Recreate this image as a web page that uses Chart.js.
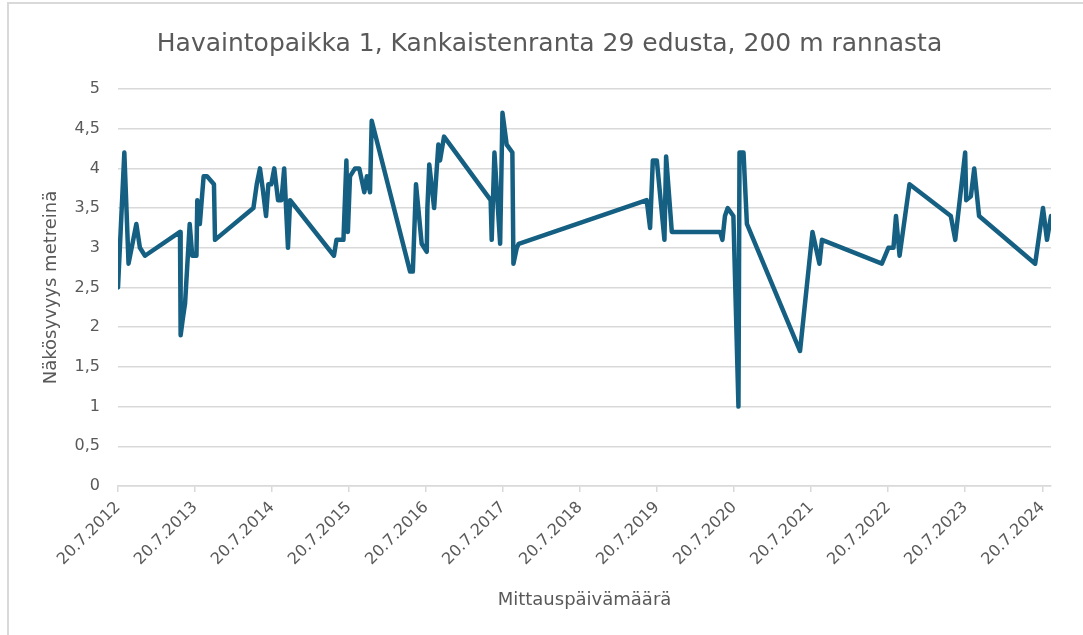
<!DOCTYPE html>
<html>
<head>
<meta charset="utf-8">
<script src="https://cdn.jsdelivr.net/npm/chart.js@4/dist/chart.umd.min.js"></script>
<style>
  html, body { margin: 0; padding: 0; background: #ffffff; }
  #wrap { position: relative; width: 1083px; height: 635px; overflow: hidden; }
  #frame { position: absolute; left: 7px; top: 2px; width: 1200px; height: 700px;
           border-left: 2px solid #d9d9d9; border-top: 2px solid #d9d9d9; pointer-events: none; }
  canvas { position: absolute; left: 0; top: 0; }
</style>
</head>
<body>
<div id="wrap">
  <canvas id="c" width="1083" height="635"></canvas>
  <div id="frame"></div>
</div>
<script>
// ---- Data ----
const titleText = "Havaintopaikka 1, Kankaistenranta 29 edusta, 200 m rannasta";
const yAxisTitle = "Näkösyvyys metreinä";
const xAxisTitle = "Mittauspäivämäärä";

const measureDates = [
  "2012-07-20","2012-08-19","2012-09-08","2012-10-15","2012-11-01","2012-11-25",
  "2013-05-10","2013-05-13","2013-05-23","2013-06-03","2013-06-25","2013-07-07",
  "2013-07-27","2013-07-31","2013-08-12","2013-08-30","2013-09-15","2013-10-18","2013-10-23",
  "2014-04-23","2014-05-09","2014-05-24","2014-06-06","2014-06-22","2014-07-03",
  "2014-07-17","2014-07-31","2014-08-18","2014-09-03","2014-09-16","2014-10-04","2014-10-14",
  "2015-05-10","2015-05-22","2015-06-24","2015-07-08","2015-07-15","2015-07-25",
  "2015-08-18","2015-09-07","2015-10-01","2015-10-13","2015-10-28","2015-11-05",
  "2016-05-05","2016-05-18","2016-06-02","2016-06-29","2016-07-23","2016-07-26",
  "2016-08-04","2016-08-27","2016-09-16","2016-09-24","2016-10-13",
  "2017-05-22","2017-05-27","2017-06-09","2017-07-06","2017-07-17","2017-08-06",
  "2017-09-02","2017-09-07","2017-09-23","2017-10-02",
  "2019-06-01","2019-06-17","2019-06-30","2019-07-19","2019-08-24","2019-09-01","2019-09-28",
  "2020-05-14","2020-05-25","2020-06-06","2020-06-19","2020-07-16","2020-08-09",
  "2020-08-14","2020-09-02","2020-09-18",
  "2021-05-28","2021-07-26","2021-08-28","2021-09-09",
  "2022-06-20","2022-07-21","2022-08-14","2022-08-26","2022-09-12","2022-10-29",
  "2023-05-13","2023-06-03","2023-07-20","2023-07-25","2023-08-16","2023-09-01","2023-09-24",
  "2024-06-16","2024-07-23","2024-08-11","2024-08-30"
];

const secchiDepths = [
  2.5, 4.2, 2.8, 3.3, 3.0, 2.9,
  3.2, 1.9, 2.1, 2.3, 3.3, 2.9,
  2.9, 3.6, 3.3, 3.9, 3.9, 3.8, 3.1,
  3.5, 3.8, 4.0, 3.75, 3.4, 3.8,
  3.8, 4.0, 3.6, 3.6, 4.0, 3.0, 3.6,
  2.9, 3.1, 3.1, 4.1, 3.2, 3.9,
  4.0, 4.0, 3.7, 3.9, 3.7, 4.6,
  2.7, 2.7, 3.8, 3.05, 2.95, 3.5,
  4.05, 3.5, 4.3, 4.1, 4.4,
  3.6, 3.1, 4.2, 3.05, 4.7, 4.3,
  4.2, 2.8, 3.0, 3.05,
  3.6, 3.25, 4.1, 4.1, 3.1, 4.15, 3.2,
  3.2, 3.1, 3.4, 3.5, 3.4, 1.0,
  4.2, 4.2, 3.3,
  1.7, 3.2, 2.8, 3.1,
  2.8, 3.0, 3.0, 3.4, 2.9, 3.8,
  3.4, 3.1, 4.2, 3.6, 3.65, 4.0, 3.4,
  2.8, 3.5, 3.1, 3.4
];

const tickYears = [2012, 2013, 2014, 2015, 2016, 2017, 2018, 2019, 2020, 2021, 2022, 2023, 2024];
const yTicks = [0, 0.5, 1, 1.5, 2, 2.5, 3, 3.5, 4, 4.5, 5];

// ---- Build ----
function toTs(iso) {
  const p = iso.split("-").map(Number);
  return Date.UTC(p[0], p[1] - 1, p[2]);
}
const points = measureDates.map((d, i) => ({ x: toTs(d), y: secchiDepths[i] }));
const xMin = toTs(measureDates[0]);
const xMax = toTs(measureDates[measureDates.length - 1]);

const textColor = "#595959";
const gridColor = "#d9d9d9";
const fontFamily = "'DejaVu Sans', sans-serif";

new Chart(document.getElementById("c"), {
  type: "line",
  data: {
    datasets: [{
      data: points,
      borderColor: "#156082",
      borderWidth: 4.5,
      pointRadius: 0,
      pointHoverRadius: 0,
      tension: 0,
      fill: false,
      borderJoinStyle: "round",
      borderCapStyle: "round"
    }]
  },
  options: {
    responsive: false,
    animation: false,
    events: [],
    layout: { padding: { left: 16, right: 0, top: 0, bottom: 0 } },
    plugins: {
      legend: { display: false },
      tooltip: { enabled: false },
      title: {
        display: true,
        text: titleText,
        color: textColor,
        font: { family: fontFamily, size: 25, weight: "normal", lineHeight: 1.2 },
        padding: { top: 29, bottom: 30 }
      }
    },
    scales: {
      x: {
        type: "linear",
        min: xMin,
        max: xMax,
        afterBuildTicks: (scale) => {
          scale.ticks = tickYears.map(y => ({ value: Date.UTC(y, 6, 20) }));
        },
        afterFit: (scale) => { scale.height = 149; },
        ticks: {
          autoSkip: false,
          maxRotation: 45,
          minRotation: 45,
          color: textColor,
          padding: 6,
          font: { family: fontFamily, size: 16 },
          callback: (v) => {
            const d = new Date(v);
            return d.getUTCDate() + "." + (d.getUTCMonth() + 1) + "." + d.getUTCFullYear();
          }
        },
        grid: { drawOnChartArea: false, drawTicks: true, tickLength: 6, color: gridColor, lineWidth: 1.5 },
        border: { display: true, color: gridColor, width: 1.5 },
        title: {
          display: true,
          text: xAxisTitle,
          color: textColor,
          font: { family: fontFamily, size: 18, lineHeight: 1.2 },
          padding: { top: 0, bottom: 24 }
        }
      },
      y: {
        min: 0,
        max: 5,
        afterBuildTicks: (scale) => { scale.ticks = yTicks.map(v => ({ value: v })); },
        afterFit: (scale) => { scale.width = 102; },
        ticks: {
          color: textColor,
          padding: 18,
          font: { family: fontFamily, size: 16 },
          callback: (v) => String(v).replace(".", ",")
        },
        grid: { color: gridColor, lineWidth: 1.5, drawTicks: false },
        border: { display: false },
        title: {
          display: true,
          text: yAxisTitle,
          color: textColor,
          font: { family: fontFamily, size: 18, lineHeight: 1.2 },
          padding: { top: 25, bottom: 0 }
        }
      },
      yRightSpace: {
        position: "right",
        min: 0,
        max: 5,
        afterFit: (scale) => { scale.width = 32; },
        ticks: { display: false },
        grid: { display: false },
        border: { display: false }
      }
    }
  }
});
</script>
</body>
</html>
